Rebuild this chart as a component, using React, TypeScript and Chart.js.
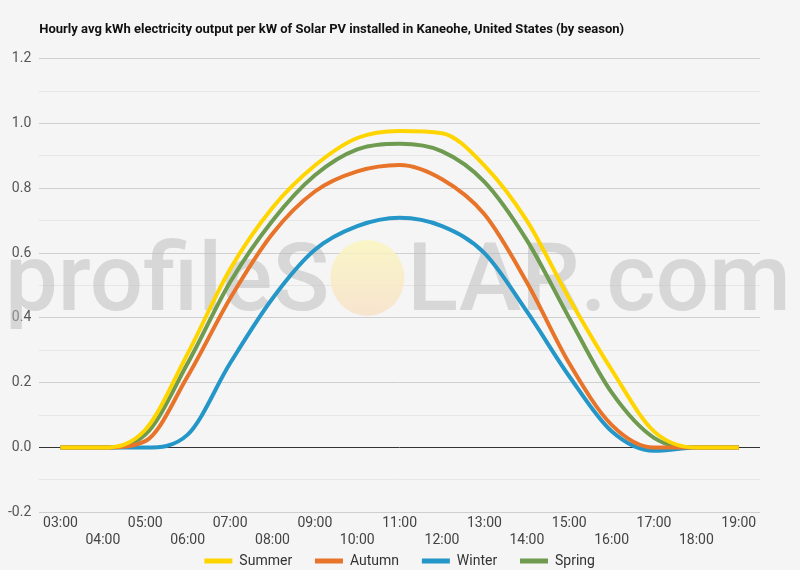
import { useEffect, useRef } from 'react';
import Chart from 'chart.js/auto';

const hours = ['03:00', '04:00', '05:00', '06:00', '07:00', '08:00', '09:00', '10:00', '11:00', '12:00', '13:00', '14:00', '15:00', '16:00', '17:00', '18:00', '19:00'];

const summer = [0, 0, 0.055, 0.29, 0.55, 0.74, 0.87, 0.955, 0.977, 0.97, 0.87, 0.7, 0.46, 0.24, 0.05, 0, 0];
const autumn = [0, 0, 0.02, 0.22, 0.46, 0.66, 0.79, 0.852, 0.872, 0.828, 0.72, 0.51, 0.26, 0.07, 0, 0, 0];
const winter = [0, 0, 0, 0.04, 0.26, 0.46, 0.61, 0.683, 0.709, 0.683, 0.6, 0.42, 0.22, 0.05, -0.01, 0, 0];
const spring = [0, 0, 0.04, 0.26, 0.51, 0.7, 0.84, 0.92, 0.937, 0.914, 0.82, 0.64, 0.4, 0.17, 0.03, 0, 0];

const yTicks = [-0.2, 0, 0.2, 0.4, 0.6, 0.8, 1.0, 1.2];

// faint site watermark drawn behind the lines
const watermarkPlugin = {
    id: 'watermarkPlugin',
    beforeDatasetsDraw: (chart: any) => {
        const ctx = chart.ctx;
        ctx.save();
        ctx.font = '500 94px Roboto';
        ctx.textBaseline = 'alphabetic';
        ctx.fillStyle = 'rgba(185, 185, 185, 0.5)';
        const base = 310;
        const left = 5;
        const first = 'profileS';
        ctx.fillText(first, left, base);
        const fw = ctx.measureText(first).width;
        // sun instead of the "O"
        const cx = left + fw + 38;
        const cy = 278;
        const grad = ctx.createLinearGradient(0, cy - 38, 0, cy + 38);
        grad.addColorStop(0, 'rgba(250, 245, 190, 0.85)');
        grad.addColorStop(1, 'rgba(247, 225, 200, 0.85)');
        ctx.fillStyle = grad;
        ctx.beginPath();
        ctx.ellipse(cx, cy, 37, 38, 0, 0, Math.PI * 2);
        ctx.fill();
        ctx.fillStyle = 'rgba(185, 185, 185, 0.5)';
        ctx.fillText('LAR.com', cx + 40, base);
        ctx.restore();
    }
};

const App: React.FC = () => {
    const chartRef = useRef<HTMLCanvasElement>(null);

    useEffect(() => {
        if (!chartRef.current) return;
        const ctx = chartRef.current.getContext('2d');
        if (!ctx) return;

        Chart.defaults.font.family = 'Roboto';
        Chart.defaults.font.size = 14;
        Chart.defaults.color = '#555';

        const line = (label: string, data: number[], color: string) => ({
            label,
            data,
            borderColor: color,
            backgroundColor: color,
            borderWidth: 4,
            fill: false,
            cubicInterpolationMode: 'monotone' as const,
            pointRadius: 0,
            pointHoverRadius: 0
        });

        const chart = new Chart(ctx, {
            type: 'line',
            data: {
                labels: hours,
                datasets: [
                    line('Summer', summer, '#ffd500'),
                    line('Autumn', autumn, '#e8742a'),
                    line('Winter', winter, '#2596c8'),
                    line('Spring', spring, '#6e9b4f')
                ]
            },
            options: {
                animation: false,
                responsive: true,
                maintainAspectRatio: false,
                layout: {
                    padding: { left: 0, right: 40, top: 0, bottom: -8 }
                },
                scales: {
                    x: {
                        offset: true,
                        grid: { display: false, drawTicks: false },
                        border: { display: false },
                        ticks: {
                            autoSkip: false,
                            maxRotation: 0,
                            padding: 3,
                            color: '#444',
                            font: { lineHeight: 1.2 },
                            callback: (_value: any, index: number) => {
                                return index % 2 === 0 ? [hours[index]] : ['', hours[index]];
                            }
                        }
                    },
                    y: {
                        min: yTicks[0],
                        max: yTicks[yTicks.length - 1],
                        border: { display: false },
                        grid: {
                            drawTicks: false,
                            lineWidth: 1,
                            color: (c: any) => {
                                const v = Math.round(c.tick.value * 10);
                                if (v === 0) return '#333';
                                return v % 2 === 0 ? '#cfcfcf' : '#e6e6e6';
                            }
                        },
                        ticks: {
                            stepSize: 0.1,
                            padding: 8,
                            color: '#555',
                            callback: (value: any) => {
                                const v = Math.round(Number(value) * 10);
                                return v % 2 === 0 ? (v / 10).toFixed(1) : '';
                            }
                        }
                    }
                },
                plugins: {
                    title: {
                        display: true,
                        text: 'Hourly avg kWh electricity output per kW of Solar PV installed in Kaneohe, United States (by season)',
                        align: 'start',
                        fullSize: false,
                        color: '#111',
                        font: { size: 13, weight: 'bold' },
                        padding: { top: 22, bottom: 21 }
                    },
                    legend: {
                        position: 'bottom',
                        fullSize: false,
                        labels: {
                            boxWidth: 28,
                            boxHeight: 5,
                            padding: 2,
                            color: '#333',
                            // small vertical padding, so widen the gap between items with trailing spaces
                            generateLabels: (c: any) => {
                                const items = Chart.defaults.plugins.legend.labels.generateLabels(c);
                                return items.map((it: any, i: number) => ({
                                    ...it,
                                    lineWidth: 0,
                                    text: i < items.length - 1 ? it.text + '      ' : it.text
                                }));
                            }
                        }
                    },
                    tooltip: { enabled: false }
                }
            },
            plugins: [watermarkPlugin]
        });

        return () => {
            chart.destroy();
        };
    }, []);

    return (
        <div style={{ position: 'absolute', left: 0, top: 0, width: 800, height: 570, background: '#f5f5f5' }}>
            <canvas ref={chartRef}></canvas>
        </div>
    );
};

export default App;
